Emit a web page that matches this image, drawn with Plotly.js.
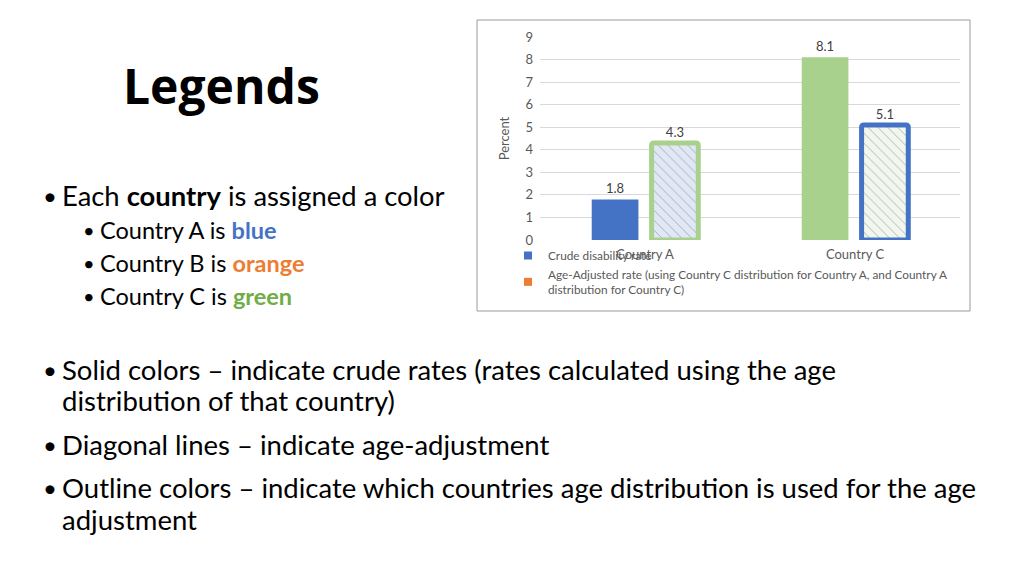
<!DOCTYPE html>
<html>
<head>
<meta charset="utf-8">
<script src="https://cdn.plot.ly/plotly-3.0.1.min.js"></script>
<style>
  html, body { margin: 0; padding: 0; background: #fff; }
  #chart { width: 1024px; height: 575px; }
</style>
</head>
<body>
<div id="chart"></div>
<script>
// ------------------------------
// chart data
// ------------------------------
var countries = ['Country A', 'Country C'];
var crudeRate = [1.8, 8.1];
var adjustedRate = [4.3, 5.1];
var crudeName = 'Crude disability rate';
var adjustedName = 'Age-Adjusted rate (using Country C distribution for Country A, and Country A<br>distribution for Country C)';
var yTicks = [0, 1, 2, 3, 4, 5, 6, 7, 8, 9];

var blue = '#4472c4';
var green = '#a9d18e';
var orange = '#ed7d31';

// px -> paper helpers (page is 1024 x 575)
function px(x) { return x / 1024; }
function py(y) { return 1 - y / 575; }

// ------------------------------
// bars
// ------------------------------
var crude = {
  x: countries,
  y: crudeRate,
  type: 'bar',
  name: crudeName,
  showlegend: false,
  marker: { color: [blue, green], line: { width: 0 } },
  text: crudeRate.map(function (v) { return v.toFixed(1); }),
  textposition: 'outside',
  textfont: { family: 'Lato', size: 13, color: '#404040' },
  cliponaxis: false,
  hoverinfo: 'x+y'
};

var adjusted = {
  x: countries,
  y: adjustedRate,
  type: 'bar',
  name: adjustedName,
  showlegend: false,
  marker: {
    color: ['#e1e8f5', '#f1f7ee'],
    line: { width: 5, color: [green, blue] },
    cornerradius: 2,
    pattern: {
      shape: '\\',
      fillmode: 'overlay',
      fgcolor: ['#b3c4e6', '#d3e4ca'],
      size: 7,
      solidity: 0.1
    }
  },
  text: adjustedRate.map(function (v) { return v.toFixed(1); }),
  textposition: 'outside',
  textfont: { family: 'Lato', size: 13, color: '#404040' },
  cliponaxis: false,
  hoverinfo: 'x+y'
};

// legend-only entries (the legend swatches are blue and orange)
var legCrude = {
  x: [null], y: [null], type: 'scatter', mode: 'markers',
  name: crudeName,
  marker: { symbol: 'square', size: 8, color: blue }
};
var legAdjusted = {
  x: [null], y: [null], type: 'scatter', mode: 'markers',
  name: adjustedName,
  marker: { symbol: 'square', size: 8, color: orange }
};

// ------------------------------
// slide text
// ------------------------------
var bodyFont = 'Lato';
var slideText = [
  { x: 121, y: 85, text: '<b>Legends</b>', size: 48, font: 'Open Sans' },
  { x: 41, y: 195, text: '•', size: 24 },
  { x: 60, y: 195, text: 'Each <b>country</b> is assigned a color', size: 27.4 },
  { x: 81, y: 230, text: '•', size: 20 },
  { x: 98, y: 230, text: 'Country A is <b><span style="color:#4472c4">blue</span></b>', size: 23.5 },
  { x: 81, y: 263, text: '•', size: 20 },
  { x: 98, y: 263, text: 'Country B is <b><span style="color:#ed7d31">orange</span></b>', size: 23.5 },
  { x: 81, y: 296, text: '•', size: 20 },
  { x: 98, y: 296, text: 'Country C is <b><span style="color:#70ad47">green</span></b>', size: 23.5 },
  { x: 41, y: 369, text: '•', size: 24 },
  { x: 60, y: 369, text: 'Solid colors – indicate crude rates (rates calculated using the age', size: 27.5 },
  { x: 60, y: 401, text: 'distribution of that country)', size: 27.5 },
  { x: 41, y: 444, text: '•', size: 24 },
  { x: 60, y: 444, text: 'Diagonal lines – indicate age-adjustment', size: 27.5 },
  { x: 41, y: 487, text: '•', size: 24 },
  { x: 60, y: 487, text: 'Outline colors – indicate which countries age distribution is used for the age', size: 27.5 },
  { x: 60, y: 519, text: 'adjustment', size: 27.5 }
];

var annotations = slideText.map(function (t) {
  return {
    xref: 'paper', yref: 'paper',
    x: px(t.x), y: py(t.y),
    xanchor: 'left', yanchor: 'middle',
    text: t.text, showarrow: false,
    font: { family: t.font || bodyFont, size: t.size, color: '#000' }
  };
});

var layout = {
  width: 1024,
  height: 575,
  margin: { l: 0, r: 0, t: 0, b: 0 },
  paper_bgcolor: '#fff',
  plot_bgcolor: '#fff',
  barmode: 'group',
  bargap: 0.43,
  bargroupgap: 0.22,
  showlegend: true,
  legend: {
    x: px(508), y: py(241),
    xanchor: 'left', yanchor: 'top',
    orientation: 'v',
    bgcolor: 'rgba(0,0,0,0)',
    font: { family: 'Lato', size: 11.8, color: '#595959' },
    itemwidth: 30,
    tracegroupgap: 2
  },
  xaxis: {
    domain: [px(540), px(960)],
    anchor: 'y',
    range: [-0.5, 1.5],
    showgrid: false,
    zeroline: false,
    showline: false,
    ticks: '',
    ticklabelstandoff: 5,
    tickfont: { family: 'Lato', size: 13, color: '#595959' },
    fixedrange: true
  },
  yaxis: {
    domain: [py(240), py(37)],
    anchor: 'x',
    range: [0, 9],
    tickvals: yTicks,
    showgrid: true,
    gridcolor: '#d9d9d9',
    gridwidth: 1,
    zeroline: false,
    showline: false,
    ticks: '',
    ticklabelstandoff: 6,
    tickfont: { family: 'Lato', size: 13, color: '#595959' },
    title: { text: 'Percent', font: { family: 'Lato', size: 13, color: '#595959' }, standoff: 12 },
    fixedrange: true
  },
  shapes: [{
    type: 'rect', xref: 'paper', yref: 'paper',
    x0: px(477), x1: px(970), y0: py(311), y1: py(20),
    line: { color: '#9a9a9a', width: 1 },
    fillcolor: 'rgba(0,0,0,0)',
    layer: 'below'
  }],
  annotations: annotations
};

Plotly.newPlot('chart', [crude, adjusted, legCrude, legAdjusted], layout, { displayModeBar: false, staticPlot: true });
</script>
</body>
</html>
